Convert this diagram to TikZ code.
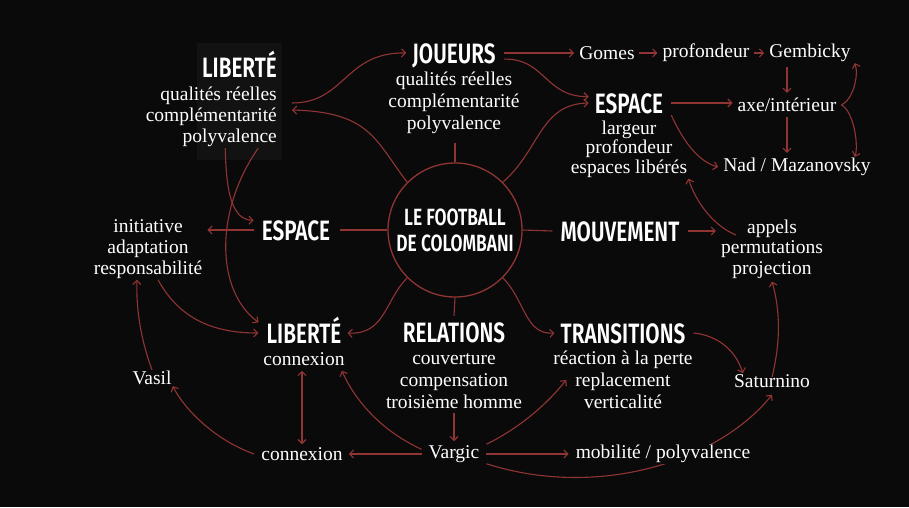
\documentclass[tikz,border=0pt]{standalone}
\usepackage{fontspec}
\setmainfont{Liberation Serif}
\newfontfamily\headfont{Fira Sans}[FakeStretch=0.74, BoldFont={Fira Sans SemiBold}]
\usetikzlibrary{arrows.meta}
\definecolor{fond}{RGB}{10,10,10}
\definecolor{trait}{RGB}{145,52,52}
\definecolor{cadre}{RGB}{18,18,18}
\tikzset{
	>={Straight Barb[length=4pt,width=8pt]},
	titre/.style={font=\headfont\bfseries\fontsize{28}{30}\selectfont, text=white, text height=20pt, text depth=0pt, inner sep=2pt},
	liste/.style={font=\fontsize{19.5}{22}\selectfont, text=white, align=center, inner sep=1pt},
	lien/.style={draw=trait, line width=1.1pt},
}
\begin{document}
\begin{tikzpicture}[x=1pt, y=-1pt]
		\fill[fond] (0,0) rectangle (909,507);
		\fill[cadre] (197,43) rectangle (282,160);

		% centre
		\node[circle, draw=trait, line width=1.3pt, minimum size=134pt, inner sep=0pt, text=white, align=center, font=\headfont\bfseries\fontsize{23.5}{26}\selectfont] (centre) at (455,230) {LE FOOTBALL\\DE COLOMBANI};

		% haut
		\node[titre] (joueurs) at (454,53) {JOUEURS};
		\node[liste] (joueursTxt) at (454,103) {qualités réelles\\complémentarité\\polyvalence};
		\node[titre, anchor=east] (libHaut) at (279,67) {LIBERTÉ};
		\node[liste, align=right, anchor=east, font=\fontsize{19.5}{21}\selectfont] (libHautTxt) at (278,117) {qualités réelles\\complémentarité\\polyvalence};
		\node[liste] (gomes) at (607,53) {Gomes};
		\node[liste] (profondeur) at (706,53) {profondeur};
		\node[liste] (gembicky) at (810,53) {Gembicky};
		\node[titre] (espaceD) at (629,103) {ESPACE};
		\node[liste, font=\fontsize{19.5}{19.5}\selectfont] (espaceDTxt) at (629,149) {largeur\\profondeur\\espaces libérés};
		\node[liste] (axe) at (787,105) {axe/intérieur};
		\node[liste] (nad) at (797,167) {Nad / Mazanovsky};

		% milieu
		\node[titre] (espaceG) at (296,230) {ESPACE};
		\node[liste, font=\fontsize{19.5}{21}\selectfont] (initTxt) at (148,249) {initiative\\adaptation\\responsabilité};
		\node[titre] (mouvement) at (620,231) {MOUVEMENT};
		\node[liste, font=\fontsize{19.5}{20.5}\selectfont] (appelsTxt) at (772,249) {appels\\permutations\\projection};

		% bas
		\node[titre] (libBas) at (304,333) {LIBERTÉ};
		\node[liste] (libBasTxt) at (304,359) {connexion};
		\node[titre] (relations) at (454,332) {RELATIONS};
		\node[liste] (relationsTxt) at (454,381) {couverture\\compensation\\troisième homme};
		\node[titre] (transitions) at (623,333) {TRANSITIONS};
		\node[liste] (transitionsTxt) at (623,380) {réaction à la perte\\replacement\\verticalité};
		\node[liste] (vasil) at (152,378) {Vasil};
		\node[liste] (saturnino) at (772,381) {Saturnino};
		\node[liste] (connexion) at (302,454) {connexion};
		\node[liste] (vargic) at (454,454) {Vargic};

		% rayons du cercle
		\draw[lien] (centre.north) -- ++(0,-19);
		\draw[lien] (centre.west) -- ([xshift=8pt]espaceG.east);
		\draw[lien] (centre.east) -- ([xshift=-6pt]mouvement.west);
		\draw[lien] (centre.south) -- ([yshift=4pt]relations.north);
		\draw[lien, ->] (centre.135) .. controls (375,140) and (370,112) .. ([shift={(14pt,7pt)}]libHautTxt.east);
		\draw[lien, ->] (centre.45) .. controls (540,150) and (540,104) .. ([xshift=-4pt]espaceD.west);
		\draw[lien, ->] (centre.225) .. controls (385,300) and (385,335) .. ([xshift=4pt]libBas.east);
		\draw[lien, ->] (centre.315) .. controls (525,300) and (525,335) .. ([xshift=-4pt]transitions.west);

		% haut
		\draw[lien, ->] ([shift={(14pt,14pt)}]libHautTxt.east) .. controls (345,103) and (345,52) .. ([xshift=-4pt]joueurs.west);
		\draw[lien, ->] ([xshift=6pt]joueurs.east) -- ([xshift=-4pt]gomes.west);
		\draw[lien, ->, shorten <=3pt, shorten >=4pt] (gomes) -- (profondeur);
		\draw[lien, ->, shorten <=3pt, shorten >=4pt] (profondeur) -- (gembicky);
		\draw[lien, ->] ([xshift=6pt]joueurs.-8) .. controls (545,58) and (545,97) .. ([xshift=-4pt]espaceD.170);
		\draw[lien, ->] ([xshift=6pt]espaceD.east) -- ([xshift=-4pt]espaceD.east -| axe.west);
		\draw[lien, ->] ([yshift=-4pt]axe.north |- gembicky.south) -- ([yshift=4pt]axe.north);
		\draw[lien, ->] ([yshift=-4pt]axe.south) -- ([yshift=4pt]axe.south |- nad.north);
		\draw[lien, ->] ([xshift=4pt]axe.east) .. controls +(12,-6) and +(4,12) .. ([xshift=3pt]gembicky.south east);
		\draw[lien, ->] ([xshift=4pt]axe.east) .. controls +(12,6) and +(4,-12) .. ([xshift=3pt]gembicky.south east |- nad.north);
		\draw[lien, ->] ([xshift=6pt]espaceD.south east) .. controls (685,145) and (700,162) .. ([xshift=-4pt]nad.west);
		\draw[lien, ->] ([xshift=16pt]appelsTxt.165) .. controls (712,225) and (695,200) .. (espaceDTxt.south east);
		\draw[lien, ->] ([xshift=6pt]mouvement.east) -- ([xshift=-4pt]mouvement.east -| appelsTxt.west);

		% gauche
		\draw[lien, ->] ([xshift=-6pt]espaceG.west) -- ([xshift=4pt]espaceG.west -| initTxt.east);
		\draw[lien, ->] ([xshift=14pt]libHautTxt.south) .. controls (226,195) and (233,220) .. ([xshift=-6pt]espaceG.165);
		\draw[lien, ->] ([xshift=47pt]libHautTxt.south) .. controls (215,210) and (215,290) .. ([xshift=-6pt]libBas.165);
		\draw[lien, ->] ([xshift=10pt]initTxt.south) .. controls (180,320) and (215,333) .. ([xshift=-6pt]libBas.west);
		\draw[lien, ->] (vasil.north) .. controls (141,340) and (136,310) .. ([xshift=-11pt]initTxt.south);
		\draw[lien, ->] ([xshift=-6pt]connexion.west) .. controls (215,440) and (185,410) .. (vasil.south east);
		\draw[lien, <->] ([yshift=-4pt]connexion.north |- libBasTxt.south) -- ([yshift=2pt]connexion.north);

		% bas
		\draw[lien, ->, shorten <=3pt, shorten >=3pt] (relationsTxt) -- (vargic);
		\draw[lien, ->] ([xshift=-6pt]vargic.west) -- ([xshift=5pt]connexion.east);
		\draw[lien, ->] ([xshift=-6pt]vargic.170) .. controls (380,430) and (355,400) .. ([shift={(-4pt,-4pt)}]libBasTxt.south east);
		\draw[lien, ->] ([xshift=6pt]vargic.north east) .. controls (525,425) and (550,400) .. ([xshift=14pt]transitionsTxt.west);
		\draw[lien, ->] ([xshift=6pt]vargic.south east) .. controls (600,500) and (720,460) .. ([yshift=-6pt]saturnino.south);
		\node[liste, fill=fond] (mobilite) at (663,454) {mobilité / polyvalence};
		\draw[lien, ->] ([xshift=6pt]vargic.east) -- ([xshift=-6pt]mobilite.west);
		\draw[lien, ->] ([yshift=-4pt]saturnino.north) .. controls (781,340) and (780,310) .. ([yshift=-2pt]appelsTxt.south);
		\draw[lien, ->] ([xshift=6pt]transitions.east) .. controls (715,335) and (735,348) .. ([xshift=10pt]saturnino.north west);
\end{tikzpicture}
\end{document}
